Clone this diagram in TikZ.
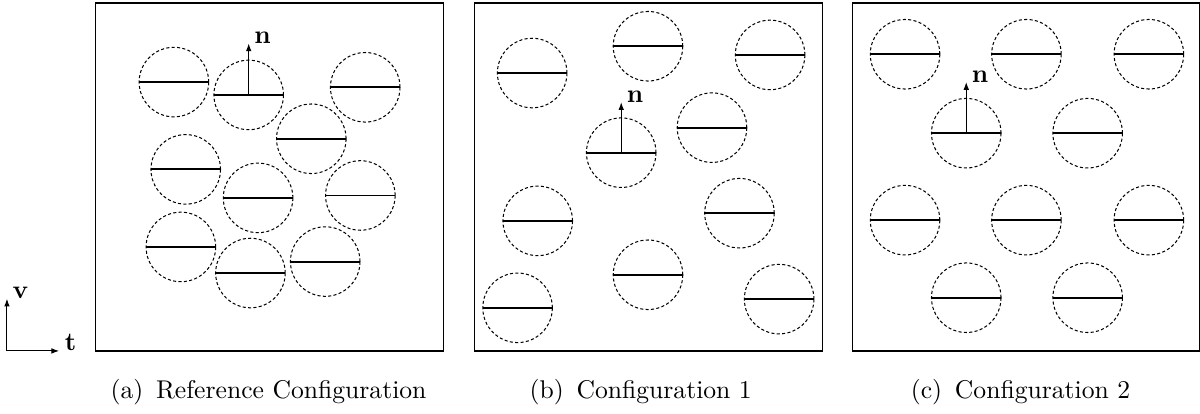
\documentclass[tikz,border=0pt]{standalone}
\usepackage{amsmath}
\usepackage{tikz}
\usetikzlibrary{arrows.meta}

\begin{document}
\begin{tikzpicture}[x=0.477cm, y=0.477cm, >={Latex[length=3pt, width=2.2pt]},
    cell/.style={draw, circle, dash pattern=on 1.2pt off 0.9pt, line width=0.4pt,
        minimum size=0.954cm, inner sep=0pt, outer sep=0pt},
    chord/.style={line width=0.75pt},
    frame/.style={line width=0.5pt},
    veclabel/.style={anchor=base west, inner sep=2pt},
    caption/.style={anchor=base, inner sep=0pt}]
    \useasboundingbox (-2.75,-1.81) rectangle (31.75,10.09);

    % Axes
    \coordinate (o) at (-2.55,0);
    \coordinate (vtip) at (-2.55,1.5);
    \coordinate (ttip) at (-1.05,0);
    \draw[->] (o) -- (vtip);
    \draw[->] (o) -- (ttip);
    \node[veclabel] (vlab) at (vtip) {$\mathbf{v}$};
    \node[veclabel] (tlab) at (ttip) {$\mathbf{t}$};

    % (a) Reference configuration
    \draw[frame] (0,0) rectangle (10,10);
    \foreach \px/\py [count=\i] in {2.25/7.73, 4.40/7.36, 7.75/7.58, 6.20/6.10, 2.59/5.22,
        4.67/4.40, 7.61/4.47, 2.45/2.99, 4.45/2.24, 6.60/2.57} {
        \node[cell] (a\i) at (\px,\py) {};
        \draw[chord] (a\i.west) -- (a\i.east);
    }
    \coordinate (na) at (4.40,8.84);
    \draw[->] (a2.center) -- (na);
    \node[veclabel] (nlaba) at (na) {$\mathbf{n}$};
    \node[caption] (capa) at (4.97,-1.38) {(a)\enspace Reference Configuration};

    % (b) Configuration 1
    \begin{scope}[shift={(10.89,0)}]
        \draw[frame] (0,0) rectangle (10,10);
        \foreach \px/\py [count=\i] in {1.66/7.99, 4.99/8.76, 8.50/8.51, 4.22/5.70, 6.83/6.42,
            1.82/3.74, 7.62/3.96, 4.99/2.19, 1.24/1.24, 8.76/1.49} {
            \node[cell] (b\i) at (\px,\py) {};
            \draw[chord] (b\i.west) -- (b\i.east);
        }
        \coordinate (nb) at (4.22,7.15);
        \draw[->] (b4.center) -- (nb);
        \node[veclabel] (nlabb) at (nb) {$\mathbf{n}$};
        \node[caption] (capb) at (4.78,-1.38) {(b)\enspace Configuration 1};
    \end{scope}

    % (c) Configuration 2
    \begin{scope}[shift={(21.75,0)}]
        \draw[frame] (0,0) rectangle (10,10);
        \foreach \px/\py [count=\i] in {1.52/8.53, 5.01/8.53, 8.53/8.53, 3.28/6.26, 6.77/6.26,
            1.52/3.76, 5.01/3.76, 8.53/3.76, 3.28/1.53, 6.77/1.53} {
            \node[cell] (c\i) at (\px,\py) {};
            \draw[chord] (c\i.west) -- (c\i.east);
        }
        \coordinate (nc) at (3.28,7.73);
        \draw[->] (c4.center) -- (nc);
        \node[veclabel] (nlabc) at (nc) {$\mathbf{n}$};
        \node[caption] (capc) at (4.84,-1.38) {(c)\enspace Configuration 2};
    \end{scope}
\end{tikzpicture}
\end{document}
